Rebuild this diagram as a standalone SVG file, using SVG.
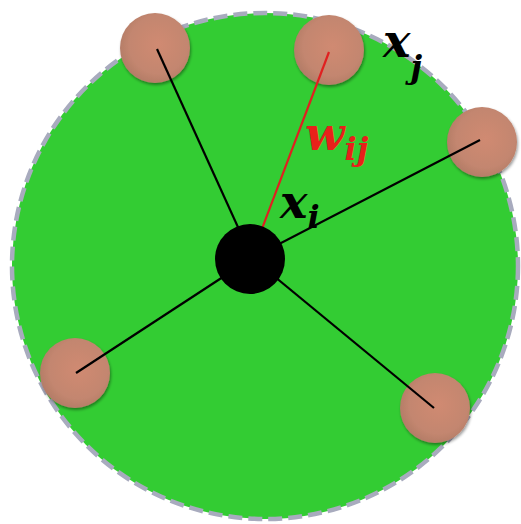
<svg xmlns="http://www.w3.org/2000/svg" width="521" height="524" viewBox="0 0 521 524">
<defs>
<radialGradient id="nb" cx="0.55" cy="0.45" r="0.6">
<stop offset="0" stop-color="#d08a72"/>
<stop offset="0.7" stop-color="#c3866f"/>
<stop offset="1" stop-color="#b07a66"/>
</radialGradient>
<filter id="sh" x="-20%" y="-20%" width="150%" height="150%">
<feGaussianBlur in="SourceAlpha" stdDeviation="1.5"/>
<feOffset dx="1" dy="2"/>
<feComponentTransfer><feFuncA type="linear" slope="0.4"/></feComponentTransfer>
<feMerge><feMergeNode/><feMergeNode in="SourceGraphic"/></feMerge>
</filter>
</defs>
<style>
.nb{fill:url(#nb);filter:url(#sh)}
.ln{stroke:#000;stroke-width:2.2;fill:none}
.lbl{font-family:"DejaVu Serif","Liberation Serif",serif;font-weight:bold;font-style:italic}
</style>
<rect width="521" height="524" fill="#fff"/>
<g id="region">
<circle cx="265" cy="266" r="253" fill="#33cc33" stroke="#a8abbe" stroke-width="4.5" stroke-dasharray="14 6"/>
</g>
<g id="neighbors">
<circle id="n1" class="nb" cx="155" cy="48" r="35"/>
<circle id="n2" class="nb" cx="329" cy="50" r="35"/>
<circle id="n3" class="nb" cx="482" cy="142" r="35"/>
<circle id="n4" class="nb" cx="75" cy="373" r="35"/>
<circle id="n5" class="nb" cx="435" cy="408" r="35"/>
</g>
<g id="connectors">
<line class="ln" x1="252" y1="258" x2="157" y2="49"/>
<line class="ln" x1="252" y1="258" x2="480" y2="140"/>
<line class="ln" x1="252" y1="258" x2="76" y2="373"/>
<line class="ln" x1="252" y1="258" x2="434" y2="408"/>
<line x1="252" y1="255" x2="329" y2="52" stroke="#e02020" stroke-width="2.2"/>
</g>
<g id="center">
<circle cx="250" cy="259" r="35" fill="#000"/>
</g>
<g id="labels">
<text class="lbl" x="383" y="57" font-size="46" fill="#000">x<tspan font-size="32" dy="21">j</tspan></text>
<text class="lbl" x="305" y="150" font-size="46" fill="#e8201a">w<tspan font-size="32" dy="10">ij</tspan></text>
<text class="lbl" x="280" y="218" font-size="46" fill="#000">x<tspan font-size="32" dy="10">i</tspan></text>
</g>
</svg>
